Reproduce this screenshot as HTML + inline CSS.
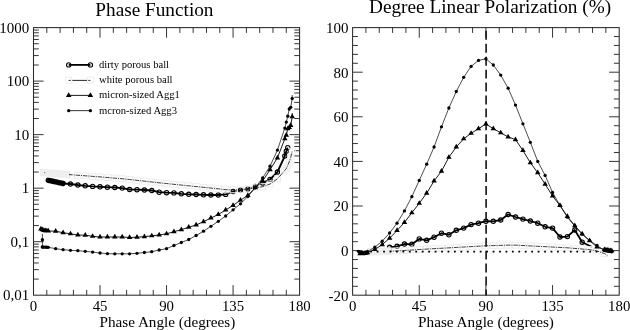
<!DOCTYPE html>
<html><head><meta charset="utf-8"><title>Phase function and polarization</title>
<style>
html,body{margin:0;padding:0;background:#fff;}
body{width:630px;height:330px;overflow:hidden;font-family:"Liberation Serif",serif;}
svg{display:block;filter:grayscale(1);}
svg text{font-family:"Liberation Serif",serif;fill:#000;}
</style></head>
<body>
<svg width="630" height="330" viewBox="0 0 630 330">
<rect width="630" height="330" fill="#fff"/>
<rect x="33.5" y="27.6" width="266.1" height="267.6" fill="none" stroke="#2a2a2a" stroke-width="1.05"/>
<rect x="352.6" y="27.6" width="266.6" height="267.6" fill="none" stroke="#2a2a2a" stroke-width="1.05"/>
<path d="M46.8 295.2v-5.3M46.8 27.6v5.3M60.11 295.2v-5.3M60.11 27.6v5.3M73.42 295.2v-5.3M73.42 27.6v5.3M86.72 295.2v-5.3M86.72 27.6v5.3M100.03 295.2v-10.1M100.03 27.6v10.1M113.33 295.2v-5.3M113.33 27.6v5.3M126.64 295.2v-5.3M126.64 27.6v5.3M139.94 295.2v-5.3M139.94 27.6v5.3M153.25 295.2v-5.3M153.25 27.6v5.3M166.55 295.2v-10.1M166.55 27.6v10.1M179.86 295.2v-5.3M179.86 27.6v5.3M193.16 295.2v-5.3M193.16 27.6v5.3M206.47 295.2v-5.3M206.47 27.6v5.3M219.77 295.2v-5.3M219.77 27.6v5.3M233.07 295.2v-10.1M233.07 27.6v10.1M246.38 295.2v-5.3M246.38 27.6v5.3M259.69 295.2v-5.3M259.69 27.6v5.3M272.99 295.2v-5.3M272.99 27.6v5.3M286.3 295.2v-5.3M286.3 27.6v5.3" stroke="#2a2a2a" stroke-width="0.95" fill="none"/>
<path d="M365.93 295.2v-5.3M365.93 27.6v5.3M379.26 295.2v-5.3M379.26 27.6v5.3M392.59 295.2v-5.3M392.59 27.6v5.3M405.92 295.2v-5.3M405.92 27.6v5.3M419.25 295.2v-10.1M419.25 27.6v10.1M432.58 295.2v-5.3M432.58 27.6v5.3M445.91 295.2v-5.3M445.91 27.6v5.3M459.24 295.2v-5.3M459.24 27.6v5.3M472.57 295.2v-5.3M472.57 27.6v5.3M485.9 295.2v-10.1M485.9 27.6v10.1M499.23 295.2v-5.3M499.23 27.6v5.3M512.56 295.2v-5.3M512.56 27.6v5.3M525.89 295.2v-5.3M525.89 27.6v5.3M539.22 295.2v-5.3M539.22 27.6v5.3M552.55 295.2v-10.1M552.55 27.6v10.1M565.88 295.2v-5.3M565.88 27.6v5.3M579.21 295.2v-5.3M579.21 27.6v5.3M592.54 295.2v-5.3M592.54 27.6v5.3M605.87 295.2v-5.3M605.87 27.6v5.3" stroke="#2a2a2a" stroke-width="0.95" fill="none"/>
<path d="M33.5 279.09h5.3M299.6 279.09h-5.3M33.5 269.66h5.3M299.6 269.66h-5.3M33.5 262.98h5.3M299.6 262.98h-5.3M33.5 257.79h5.3M299.6 257.79h-5.3M33.5 253.55h5.3M299.6 253.55h-5.3M33.5 249.97h5.3M299.6 249.97h-5.3M33.5 246.87h5.3M299.6 246.87h-5.3M33.5 244.13h5.3M299.6 244.13h-5.3M33.5 241.68h10.1M299.6 241.68h-10.1M33.5 225.57h5.3M299.6 225.57h-5.3M33.5 216.14h5.3M299.6 216.14h-5.3M33.5 209.46h5.3M299.6 209.46h-5.3M33.5 204.27h5.3M299.6 204.27h-5.3M33.5 200.03h5.3M299.6 200.03h-5.3M33.5 196.45h5.3M299.6 196.45h-5.3M33.5 193.35h5.3M299.6 193.35h-5.3M33.5 190.61h5.3M299.6 190.61h-5.3M33.5 188.16h10.1M299.6 188.16h-10.1M33.5 172.05h5.3M299.6 172.05h-5.3M33.5 162.62h5.3M299.6 162.62h-5.3M33.5 155.94h5.3M299.6 155.94h-5.3M33.5 150.75h5.3M299.6 150.75h-5.3M33.5 146.51h5.3M299.6 146.51h-5.3M33.5 142.93h5.3M299.6 142.93h-5.3M33.5 139.83h5.3M299.6 139.83h-5.3M33.5 137.09h5.3M299.6 137.09h-5.3M33.5 134.64h10.1M299.6 134.64h-10.1M33.5 118.53h5.3M299.6 118.53h-5.3M33.5 109.1h5.3M299.6 109.1h-5.3M33.5 102.42h5.3M299.6 102.42h-5.3M33.5 97.23h5.3M299.6 97.23h-5.3M33.5 92.99h5.3M299.6 92.99h-5.3M33.5 89.41h5.3M299.6 89.41h-5.3M33.5 86.31h5.3M299.6 86.31h-5.3M33.5 83.57h5.3M299.6 83.57h-5.3M33.5 81.12h10.1M299.6 81.12h-10.1M33.5 65.01h5.3M299.6 65.01h-5.3M33.5 55.58h5.3M299.6 55.58h-5.3M33.5 48.9h5.3M299.6 48.9h-5.3M33.5 43.71h5.3M299.6 43.71h-5.3M33.5 39.47h5.3M299.6 39.47h-5.3M33.5 35.89h5.3M299.6 35.89h-5.3M33.5 32.79h5.3M299.6 32.79h-5.3M33.5 30.05h5.3M299.6 30.05h-5.3" stroke="#2a2a2a" stroke-width="0.95" fill="none"/>
<path d="M352.6 286.28h5.3M619.2 286.28h-5.3M352.6 277.36h5.3M619.2 277.36h-5.3M352.6 268.44h5.3M619.2 268.44h-5.3M352.6 259.52h5.3M619.2 259.52h-5.3M352.6 250.6h10.1M619.2 250.6h-10.1M352.6 241.68h5.3M619.2 241.68h-5.3M352.6 232.76h5.3M619.2 232.76h-5.3M352.6 223.84h5.3M619.2 223.84h-5.3M352.6 214.92h5.3M619.2 214.92h-5.3M352.6 206h10.1M619.2 206h-10.1M352.6 197.08h5.3M619.2 197.08h-5.3M352.6 188.16h5.3M619.2 188.16h-5.3M352.6 179.24h5.3M619.2 179.24h-5.3M352.6 170.32h5.3M619.2 170.32h-5.3M352.6 161.4h10.1M619.2 161.4h-10.1M352.6 152.48h5.3M619.2 152.48h-5.3M352.6 143.56h5.3M619.2 143.56h-5.3M352.6 134.64h5.3M619.2 134.64h-5.3M352.6 125.72h5.3M619.2 125.72h-5.3M352.6 116.8h10.1M619.2 116.8h-10.1M352.6 107.88h5.3M619.2 107.88h-5.3M352.6 98.96h5.3M619.2 98.96h-5.3M352.6 90.04h5.3M619.2 90.04h-5.3M352.6 81.12h5.3M619.2 81.12h-5.3M352.6 72.2h10.1M619.2 72.2h-10.1M352.6 63.28h5.3M619.2 63.28h-5.3M352.6 54.36h5.3M619.2 54.36h-5.3M352.6 45.44h5.3M619.2 45.44h-5.3M352.6 36.52h5.3M619.2 36.52h-5.3" stroke="#2a2a2a" stroke-width="0.95" fill="none"/>
<text x="154.4" y="15.5" font-size="19.25" text-anchor="middle">Phase Function</text>
<text x="490.1" y="13.3" font-size="19.25" text-anchor="middle">Degree Linear Polarization (%)</text>
<text x="167.4" y="326.5" font-size="15.2" text-anchor="middle">Phase Angle (degrees)</text>
<text x="486" y="326.5" font-size="15.2" text-anchor="middle">Phase Angle (degrees)</text>
<text x="33.5" y="310.7" font-size="14.8" text-anchor="middle">0</text>
<text x="352.6" y="310.7" font-size="14.8" text-anchor="middle">0</text>
<text x="100.03" y="310.7" font-size="14.8" text-anchor="middle">45</text>
<text x="419.25" y="310.7" font-size="14.8" text-anchor="middle">45</text>
<text x="166.55" y="310.7" font-size="14.8" text-anchor="middle">90</text>
<text x="485.9" y="310.7" font-size="14.8" text-anchor="middle">90</text>
<text x="233.07" y="310.7" font-size="14.8" text-anchor="middle">135</text>
<text x="552.55" y="310.7" font-size="14.8" text-anchor="middle">135</text>
<text x="299.6" y="310.7" font-size="14.8" text-anchor="middle">180</text>
<text x="619.2" y="310.7" font-size="14.8" text-anchor="middle">180</text>
<text x="29.2" y="32.7" font-size="15" text-anchor="end">1000</text>
<text x="29.2" y="86.22" font-size="15" text-anchor="end">100</text>
<text x="29.2" y="139.74" font-size="15" text-anchor="end">10</text>
<text x="29.2" y="193.26" font-size="15" text-anchor="end">1</text>
<text x="29.2" y="246.78" font-size="15" text-anchor="end">0,1</text>
<text x="29.2" y="299.6" font-size="15" text-anchor="end">0,01</text>
<text x="348.6" y="32.9" font-size="15" text-anchor="end">100</text>
<text x="348.6" y="77.5" font-size="15" text-anchor="end">80</text>
<text x="348.6" y="122.1" font-size="15" text-anchor="end">60</text>
<text x="348.6" y="166.7" font-size="15" text-anchor="end">40</text>
<text x="348.6" y="211.3" font-size="15" text-anchor="end">20</text>
<text x="348.6" y="255.9" font-size="15" text-anchor="end">0</text>
<text x="348.6" y="300.5" font-size="15" text-anchor="end">-20</text>
<polyline points="48.28,180.3 49.76,180.62 51.24,180.94 52.72,181.26 54.2,181.58 55.68,181.9 57.15,182.22 58.63,182.54 60.11,182.86 61.59,183.18 63.07,183.5 70.46,184 77.85,185 85.24,185.8 92.63,186.4 100.03,186.8 107.42,187.2 114.81,187.5 122.2,188.1 129.59,189.5 136.98,189.7 144.38,190 151.77,190.5 159.16,192.2 166.55,192.7 173.94,192.9 181.33,193.8 188.73,194.3 196.12,194.5 203.51,194.8 210.9,195 218.29,195 225.68,194.4 233.07,191.5 240.47,190.1 247.86,188.9 255.25,186.5 262.64,183 270.03,179.4 277.43,172 284.82,156 286.3,151.3 287.77,147.7" fill="none" stroke="#000" stroke-width="1.8" stroke-linejoin="round"/>
<polyline points="48.28,180.3 49.76,180.62 51.24,180.94 52.72,181.26 54.2,181.58 55.68,181.9 57.15,182.22 58.63,182.54 60.11,182.86 61.59,183.18 63.07,183.5" fill="none" stroke="#000" stroke-width="5.4" stroke-linecap="round" stroke-linejoin="round"/>
<g fill="none" stroke="#000" stroke-width="1.1"><circle cx="70.46" cy="184" r="2.15"/><circle cx="77.85" cy="185" r="2.15"/><circle cx="85.24" cy="185.8" r="2.15"/><circle cx="92.63" cy="186.4" r="2.15"/><circle cx="100.03" cy="186.8" r="2.15"/><circle cx="107.42" cy="187.2" r="2.15"/><circle cx="114.81" cy="187.5" r="2.15"/><circle cx="122.2" cy="188.1" r="2.15"/><circle cx="129.59" cy="189.5" r="2.15"/><circle cx="136.98" cy="189.7" r="2.15"/><circle cx="144.38" cy="190" r="2.15"/><circle cx="151.77" cy="190.5" r="2.15"/><circle cx="159.16" cy="192.2" r="2.15"/><circle cx="166.55" cy="192.7" r="2.15"/><circle cx="173.94" cy="192.9" r="2.15"/><circle cx="181.33" cy="193.8" r="2.15"/><circle cx="188.73" cy="194.3" r="2.15"/><circle cx="196.12" cy="194.5" r="2.15"/><circle cx="203.51" cy="194.8" r="2.15"/><circle cx="210.9" cy="195" r="2.15"/><circle cx="218.29" cy="195" r="2.15"/><circle cx="225.68" cy="194.4" r="2.15"/><circle cx="233.07" cy="191.5" r="2.15"/><circle cx="240.47" cy="190.1" r="2.15"/><circle cx="247.86" cy="188.9" r="2.15"/><circle cx="255.25" cy="186.5" r="2.15"/><circle cx="262.64" cy="183" r="2.15"/><circle cx="270.03" cy="179.4" r="2.15"/><circle cx="277.43" cy="172" r="2.15"/><circle cx="284.82" cy="156" r="2.15"/><circle cx="286.3" cy="151.3" r="2.15"/><circle cx="287.77" cy="147.7" r="2.15"/></g>
<polygon points="40.3,169.3 70,171.5 70,177.7 40.3,175.5" fill="#efefef" stroke="#e9e9e9" stroke-width="0.8"/>
<circle cx="44.7" cy="172.6" r="0.6" fill="#555"/>
<g fill="none" stroke="#ededed" stroke-width="1"><rect x="74.85" y="172.24" width="6" height="6"/><rect x="82.24" y="172.79" width="6" height="6"/><rect x="89.63" y="173.35" width="6" height="6"/><rect x="97.03" y="173.9" width="6" height="6"/><rect x="104.42" y="174.52" width="6" height="6"/><rect x="111.81" y="175.14" width="6" height="6"/><rect x="119.2" y="175.75" width="6" height="6"/><rect x="126.59" y="176.5" width="6" height="6"/><rect x="133.98" y="177.32" width="6" height="6"/><rect x="141.38" y="178.15" width="6" height="6"/><rect x="148.77" y="178.97" width="6" height="6"/><rect x="156.16" y="179.8" width="6" height="6"/><rect x="163.55" y="180.56" width="6" height="6"/><rect x="170.94" y="181.31" width="6" height="6"/><rect x="178.33" y="182.06" width="6" height="6"/><rect x="185.73" y="182.81" width="6" height="6"/><rect x="193.12" y="183.57" width="6" height="6"/><rect x="200.51" y="184.32" width="6" height="6"/><rect x="207.9" y="185.07" width="6" height="6"/><rect x="215.29" y="185.82" width="6" height="6"/><rect x="222.68" y="186.7" width="6" height="6"/><rect x="230.07" y="186.8" width="6" height="6"/><rect x="237.47" y="186.8" width="6" height="6"/><rect x="244.86" y="186.2" width="6" height="6"/><rect x="252.25" y="184.8" width="6" height="6"/><rect x="259.64" y="183.63" width="6" height="6"/><rect x="267.03" y="181.07" width="6" height="6"/><rect x="274.43" y="175.85" width="6" height="6"/><rect x="281.82" y="167.38" width="6" height="6"/><rect x="283.3" y="165.6" width="6" height="6"/><rect x="284.77" y="162.24" width="6" height="6"/><rect x="286.25" y="158.88" width="6" height="6"/><rect x="287.73" y="154.23" width="6" height="6"/><rect x="289.21" y="148.3" width="6" height="6"/></g>
<polyline points="68.98,174.58 77.85,175.24 85.24,175.79 92.63,176.35 100.03,176.9 107.42,177.52 114.81,178.14 122.2,178.75 129.59,179.5 136.98,180.32 144.38,181.15 151.77,181.97 159.16,182.8 166.55,183.56 173.94,184.31 181.33,185.06 188.73,185.81 196.12,186.57 203.51,187.32 210.9,188.07 218.29,188.82 225.68,189.7 233.07,189.8 240.47,189.8 247.86,189.2 255.25,187.8 262.64,186.63 270.03,184.07 277.43,178.85 284.82,170.38 286.3,168.6 287.77,165.24 289.25,161.88 290.73,157.23 292.21,151.3" fill="none" stroke="#222" stroke-width="0.9" stroke-dasharray="4.4 1.0 1.0 1.02" stroke-dashoffset="8.17"/>
<polyline points="40.89,229 42.37,229.7 43.85,230.5 45.33,230.7 46.8,230.9 48.28,231 55.68,231.2 63.07,232.7 70.46,233.8 77.85,235 85.24,235.2 92.63,236.3 100.03,237 107.42,237 114.81,237 122.2,237 129.59,237.5 136.98,237.2 144.38,236.7 151.77,235.8 159.16,235 166.55,233.8 173.94,231.7 181.33,229.7 188.73,227.2 196.12,225 203.51,221.7 210.9,218 218.29,214.5 225.68,210 233.07,205.4 240.47,200.2 247.86,195.5 255.25,187.7 262.64,181 270.03,169.8 277.43,157.9 284.82,138.8 286.3,135.2 287.77,128.7 289.25,127.5 290.73,125.5 292.21,116.8 292.2,113" fill="none" stroke="#000" stroke-width="0.9" stroke-linejoin="round"/>
<path d="M40.89 225.87L43.64 230.57L38.14 230.57ZM42.37 226.57L45.12 231.27L39.62 231.27ZM43.85 227.37L46.6 232.07L41.1 232.07ZM45.33 227.57L48.08 232.27L42.58 232.27ZM46.8 227.77L49.55 232.47L44.05 232.47ZM48.28 227.87L51.03 232.57L45.53 232.57ZM55.68 228.07L58.43 232.77L52.93 232.77ZM63.07 229.57L65.82 234.27L60.32 234.27ZM70.46 230.67L73.21 235.37L67.71 235.37ZM77.85 231.87L80.6 236.57L75.1 236.57ZM85.24 232.07L87.99 236.77L82.49 236.77ZM92.63 233.17L95.38 237.87L89.88 237.87ZM100.03 233.87L102.78 238.57L97.28 238.57ZM107.42 233.87L110.17 238.57L104.67 238.57ZM114.81 233.87L117.56 238.57L112.06 238.57ZM122.2 233.87L124.95 238.57L119.45 238.57ZM129.59 234.37L132.34 239.07L126.84 239.07ZM136.98 234.07L139.73 238.77L134.23 238.77ZM144.38 233.57L147.12 238.27L141.62 238.27ZM151.77 232.67L154.52 237.37L149.02 237.37ZM159.16 231.87L161.91 236.57L156.41 236.57ZM166.55 230.67L169.3 235.37L163.8 235.37ZM173.94 228.57L176.69 233.27L171.19 233.27ZM181.33 226.57L184.08 231.27L178.58 231.27ZM188.73 224.07L191.48 228.77L185.98 228.77ZM196.12 221.87L198.87 226.57L193.37 226.57ZM203.51 218.57L206.26 223.27L200.76 223.27ZM210.9 214.87L213.65 219.57L208.15 219.57ZM218.29 211.37L221.04 216.07L215.54 216.07ZM225.68 206.87L228.43 211.57L222.93 211.57ZM233.07 202.27L235.82 206.97L230.32 206.97ZM240.47 197.07L243.22 201.77L237.72 201.77ZM247.86 192.37L250.61 197.07L245.11 197.07ZM255.25 184.57L258 189.27L252.5 189.27ZM262.64 177.87L265.39 182.57L259.89 182.57ZM270.03 166.67L272.78 171.37L267.28 171.37ZM277.43 154.77L280.18 159.47L274.68 159.47ZM284.82 135.67L287.57 140.37L282.07 140.37ZM286.3 132.07L289.05 136.77L283.55 136.77ZM287.77 125.57L290.52 130.27L285.02 130.27ZM289.25 124.37L292 129.07L286.5 129.07ZM290.73 122.37L293.48 127.07L287.98 127.07ZM292.21 113.67L294.96 118.37L289.46 118.37Z" fill="#000"/>
<polyline points="42.4,233.9 42.4,239.7 42.4,246.9 42.37,247.06 43.85,247.12 45.33,247.18 46.8,247.24 48.28,247.3 55.68,248.7 63.07,249.7 70.46,250.3 77.85,250.7 85.24,251.3 92.63,252.1 100.03,253 107.42,253.7 114.81,253.8 122.2,253.8 129.59,253.8 136.98,253.3 144.38,252.5 151.77,251.7 159.16,250 166.55,248.7 173.94,245.5 181.33,242.5 188.73,239.5 196.12,235.5 203.51,231.2 210.9,226.3 218.29,221.3 225.68,216 233.07,209.8 240.47,203.8 247.86,196.5 255.25,187.8 262.64,178 270.03,166.2 277.43,150.1 284.82,128.1 286.3,122.1 287.77,116.2 289.25,109 290.73,107.3 292.21,98.5 292.2,95" fill="none" stroke="#111" stroke-width="0.75" stroke-linejoin="round"/>
<g fill="#000"><circle cx="42.4" cy="239.7" r="1.65"/><circle cx="42.4" cy="246.9" r="1.65"/><circle cx="42.37" cy="247.06" r="1.65"/><circle cx="43.85" cy="247.12" r="1.65"/><circle cx="45.33" cy="247.18" r="1.65"/><circle cx="46.8" cy="247.24" r="1.65"/><circle cx="48.28" cy="247.3" r="1.65"/><circle cx="55.68" cy="248.7" r="1.65"/><circle cx="63.07" cy="249.7" r="1.65"/><circle cx="70.46" cy="250.3" r="1.65"/><circle cx="77.85" cy="250.7" r="1.65"/><circle cx="85.24" cy="251.3" r="1.65"/><circle cx="92.63" cy="252.1" r="1.65"/><circle cx="100.03" cy="253" r="1.65"/><circle cx="107.42" cy="253.7" r="1.65"/><circle cx="114.81" cy="253.8" r="1.65"/><circle cx="122.2" cy="253.8" r="1.65"/><circle cx="129.59" cy="253.8" r="1.65"/><circle cx="136.98" cy="253.3" r="1.65"/><circle cx="144.38" cy="252.5" r="1.65"/><circle cx="151.77" cy="251.7" r="1.65"/><circle cx="159.16" cy="250" r="1.65"/><circle cx="166.55" cy="248.7" r="1.65"/><circle cx="173.94" cy="245.5" r="1.65"/><circle cx="181.33" cy="242.5" r="1.65"/><circle cx="188.73" cy="239.5" r="1.65"/><circle cx="196.12" cy="235.5" r="1.65"/><circle cx="203.51" cy="231.2" r="1.65"/><circle cx="210.9" cy="226.3" r="1.65"/><circle cx="218.29" cy="221.3" r="1.65"/><circle cx="225.68" cy="216" r="1.65"/><circle cx="233.07" cy="209.8" r="1.65"/><circle cx="240.47" cy="203.8" r="1.65"/><circle cx="247.86" cy="196.5" r="1.65"/><circle cx="255.25" cy="187.8" r="1.65"/><circle cx="262.64" cy="178" r="1.65"/><circle cx="270.03" cy="166.2" r="1.65"/><circle cx="277.43" cy="150.1" r="1.65"/><circle cx="284.82" cy="128.1" r="1.65"/><circle cx="286.3" cy="122.1" r="1.65"/><circle cx="287.77" cy="116.2" r="1.65"/><circle cx="289.25" cy="109" r="1.65"/><circle cx="290.73" cy="107.3" r="1.65"/><circle cx="292.21" cy="98.5" r="1.65"/></g>
<text x="99" y="67.8" font-size="10.6" text-anchor="start">dirty porous ball</text>
<polyline points="68.7,64.9 90.4,64.9" fill="none" stroke="#000" stroke-width="1.8" stroke-linejoin="round"/>
<g fill="none" stroke="#000" stroke-width="1.1"><circle cx="68.7" cy="64.9" r="2.15"/><circle cx="90.4" cy="64.9" r="2.15"/></g>
<text x="99" y="83.05" font-size="10.6" text-anchor="start">white porous ball</text>
<g fill="none" stroke="#ededed" stroke-width="1"><rect x="65.7" y="77.15" width="6" height="6"/><rect x="87.4" y="77.15" width="6" height="6"/></g>
<polyline points="68.7,80.4 90.4,80.4" fill="none" stroke="#2a2a2a" stroke-width="1.0" stroke-linejoin="round" stroke-dasharray="2.0 1.6 14.7 1.3 2.1 100"/>
<text x="99" y="98.3" font-size="10.6" text-anchor="start">micron-sized Agg1</text>
<polyline points="68.7,95.4 90.4,95.4" fill="none" stroke="#000" stroke-width="0.9" stroke-linejoin="round"/>
<path d="M68.7 92.27L71.45 96.97L65.95 96.97ZM90.4 92.27L93.15 96.97L87.65 96.97Z" fill="#000"/>
<text x="99" y="113.55" font-size="10.6" text-anchor="start">mcron-sized Agg3</text>
<polyline points="68.7,110.65 90.4,110.65" fill="none" stroke="#000" stroke-width="0.8" stroke-linejoin="round"/>
<g fill="#000"><circle cx="68.7" cy="110.65" r="1.65"/><circle cx="90.4" cy="110.65" r="1.65"/></g>
<polyline points="389.63,247.3 397.03,246.3 404.44,244 411.84,244.3 419.25,238.9 426.66,240.3 434.06,237.2 441.47,233.2 448.87,234.8 456.28,230.3 463.68,228.1 471.09,224.6 478.49,223.2 485.9,221.2 493.31,221.3 500.71,220 508.12,214.5 515.52,217 522.93,219.1 530.33,221 537.74,223.2 545.14,226.8 552.55,228.1 559.96,237 567.36,236.6 574.77,230 582.17,242.2 591.6,246.8" fill="none" stroke="#000" stroke-width="1.8" stroke-linejoin="round"/>
<g fill="none" stroke="#000" stroke-width="1.1"><circle cx="389.63" cy="247.3" r="2.15"/><circle cx="397.03" cy="246.3" r="2.15"/><circle cx="404.44" cy="244" r="2.15"/><circle cx="411.84" cy="244.3" r="2.15"/><circle cx="419.25" cy="238.9" r="2.15"/><circle cx="426.66" cy="240.3" r="2.15"/><circle cx="434.06" cy="237.2" r="2.15"/><circle cx="441.47" cy="233.2" r="2.15"/><circle cx="448.87" cy="234.8" r="2.15"/><circle cx="456.28" cy="230.3" r="2.15"/><circle cx="463.68" cy="228.1" r="2.15"/><circle cx="471.09" cy="224.6" r="2.15"/><circle cx="478.49" cy="223.2" r="2.15"/><circle cx="485.9" cy="221.2" r="2.15"/><circle cx="493.31" cy="221.3" r="2.15"/><circle cx="500.71" cy="220" r="2.15"/><circle cx="508.12" cy="214.5" r="2.15"/><circle cx="515.52" cy="217" r="2.15"/><circle cx="522.93" cy="219.1" r="2.15"/><circle cx="530.33" cy="221" r="2.15"/><circle cx="537.74" cy="223.2" r="2.15"/><circle cx="545.14" cy="226.8" r="2.15"/><circle cx="552.55" cy="228.1" r="2.15"/><circle cx="559.96" cy="237" r="2.15"/><circle cx="567.36" cy="236.6" r="2.15"/><circle cx="574.77" cy="230" r="2.15"/><circle cx="582.17" cy="242.2" r="2.15"/></g>
<polygon points="367.5,248.3 391.13,247.8 391.13,254.6 367.5,255.1" fill="#efefef" stroke="#e9e9e9" stroke-width="0.8"/>
<g fill="none" stroke="#ededed" stroke-width="1"><rect x="386.63" y="248.15" width="6" height="6"/><rect x="394.03" y="248" width="6" height="6"/><rect x="401.44" y="247.5" width="6" height="6"/><rect x="408.84" y="247" width="6" height="6"/><rect x="416.25" y="246.5" width="6" height="6"/><rect x="423.66" y="246.09" width="6" height="6"/><rect x="431.06" y="245.68" width="6" height="6"/><rect x="438.47" y="245.27" width="6" height="6"/><rect x="445.87" y="244.86" width="6" height="6"/><rect x="453.28" y="244.44" width="6" height="6"/><rect x="460.68" y="244.03" width="6" height="6"/><rect x="468.09" y="243.62" width="6" height="6"/><rect x="475.49" y="243.21" width="6" height="6"/><rect x="482.9" y="242.8" width="6" height="6"/><rect x="490.31" y="242.58" width="6" height="6"/><rect x="497.71" y="242.36" width="6" height="6"/><rect x="505.12" y="242.13" width="6" height="6"/><rect x="512.52" y="242.15" width="6" height="6"/><rect x="519.93" y="242.53" width="6" height="6"/><rect x="527.33" y="242.91" width="6" height="6"/><rect x="534.74" y="243.29" width="6" height="6"/><rect x="542.14" y="243.66" width="6" height="6"/><rect x="549.55" y="244.04" width="6" height="6"/><rect x="556.96" y="244.42" width="6" height="6"/><rect x="564.36" y="244.8" width="6" height="6"/><rect x="571.77" y="245.41" width="6" height="6"/><rect x="579.17" y="246.02" width="6" height="6"/><rect x="586.58" y="246.63" width="6" height="6"/><rect x="593.98" y="248" width="6" height="6"/><rect x="601.39" y="250.5" width="6" height="6"/></g>
<polyline points="389.63,251.15 397.03,251 404.44,250.5 411.84,250 419.25,249.5 426.66,249.09 434.06,248.68 441.47,248.27 448.87,247.86 456.28,247.44 463.68,247.03 471.09,246.62 478.49,246.21 485.9,245.8 493.31,245.58 500.71,245.36 508.12,245.13 515.52,245.15 522.93,245.53 530.33,245.91 537.74,246.29 545.14,246.66 552.55,247.04 559.96,247.42 567.36,247.8 574.77,248.41 582.17,249.02 589.58,249.63 596.98,251 604.39,253.5 607.35,255.5" fill="none" stroke="#222" stroke-width="0.9" stroke-dasharray="4.4 1.0 1.0 1.02" stroke-dashoffset="2.2"/>
<line x1="370.26" y1="251.7" x2="600" y2="251.7" stroke="#000" stroke-width="1.8" stroke-dasharray="1.8 4.64"/>
<line x1="486.1" y1="27.6" x2="486.1" y2="295.2" stroke="#111" stroke-width="1.6" stroke-dasharray="8.9 4.03" stroke-dashoffset="9.66"/>
<polyline points="360.01,253.7 361.49,253.7 362.97,253.6 364.45,253.4 365.93,253.1 367.41,252.6 374.82,249.5 382.22,244.6 389.63,238.2 397.03,230.5 404.44,222.4 411.84,212.8 419.25,203.3 426.66,193.2 434.06,181 441.47,171.2 448.87,157.3 456.28,147 463.68,138.8 471.09,133.3 478.49,128.7 485.9,124 493.31,128.7 500.71,132.8 508.12,136.9 515.52,139.6 522.93,150.5 530.33,162.8 537.74,172.7 545.14,184.2 552.55,196 559.96,205.5 567.36,216.4 574.77,225.7 582.17,234 589.58,240.7 596.98,247 604.39,249.6 605.87,249.84 607.35,250.08 608.83,250.32 610.31,250.56 611.79,250.8" fill="none" stroke="#000" stroke-width="0.9" stroke-linejoin="round"/>
<path d="M360.01 250.57L362.76 255.27L357.26 255.27ZM361.49 250.57L364.24 255.27L358.74 255.27ZM362.97 250.47L365.72 255.17L360.22 255.17ZM364.45 250.27L367.2 254.97L361.7 254.97ZM365.93 249.97L368.68 254.67L363.18 254.67ZM367.41 249.47L370.16 254.17L364.66 254.17ZM374.82 246.37L377.57 251.07L372.07 251.07ZM382.22 241.47L384.97 246.17L379.47 246.17ZM389.63 235.07L392.38 239.77L386.88 239.77ZM397.03 227.37L399.78 232.07L394.28 232.07ZM404.44 219.27L407.19 223.97L401.69 223.97ZM411.84 209.67L414.59 214.37L409.09 214.37ZM419.25 200.17L422 204.87L416.5 204.87ZM426.66 190.07L429.41 194.77L423.91 194.77ZM434.06 177.87L436.81 182.57L431.31 182.57ZM441.47 168.07L444.22 172.77L438.72 172.77ZM448.87 154.17L451.62 158.87L446.12 158.87ZM456.28 143.87L459.03 148.57L453.53 148.57ZM463.68 135.67L466.43 140.37L460.93 140.37ZM471.09 130.17L473.84 134.87L468.34 134.87ZM478.49 125.57L481.24 130.27L475.74 130.27ZM485.9 120.87L488.65 125.57L483.15 125.57ZM493.31 125.57L496.06 130.27L490.56 130.27ZM500.71 129.67L503.46 134.37L497.96 134.37ZM508.12 133.77L510.87 138.47L505.37 138.47ZM515.52 136.47L518.27 141.17L512.77 141.17ZM522.93 147.37L525.68 152.07L520.18 152.07ZM530.33 159.67L533.08 164.37L527.58 164.37ZM537.74 169.57L540.49 174.27L534.99 174.27ZM545.14 181.07L547.89 185.77L542.39 185.77ZM552.55 192.87L555.3 197.57L549.8 197.57ZM559.96 202.37L562.71 207.07L557.21 207.07ZM567.36 213.27L570.11 217.97L564.61 217.97ZM574.77 222.57L577.52 227.27L572.02 227.27ZM582.17 230.87L584.92 235.57L579.42 235.57ZM589.58 237.57L592.33 242.27L586.83 242.27ZM596.98 243.87L599.73 248.57L594.23 248.57ZM604.39 246.47L607.14 251.17L601.64 251.17ZM605.87 246.71L608.62 251.41L603.12 251.41ZM607.35 246.95L610.1 251.65L604.6 251.65ZM608.83 247.19L611.58 251.89L606.08 251.89ZM610.31 247.43L613.06 252.13L607.56 252.13ZM611.79 247.67L614.54 252.37L609.04 252.37Z" fill="#000"/>
<polyline points="358.4,251.3 360.01,252.6 361.49,253 362.97,253 364.45,252.8 365.93,252.4 367.41,251.6 374.82,247.2 382.22,241.2 389.63,233 397.03,223.2 404.44,210.9 411.84,196.7 419.25,180.4 426.66,164.2 434.06,147 441.47,126.8 448.87,108 456.28,91.5 463.68,77.3 471.09,66.4 478.49,60.4 485.9,58.8 493.31,65 500.71,75.1 508.12,88.2 515.52,105.1 522.93,123.8 530.33,142.3 537.74,161.4 545.14,175.4 552.55,192.4 559.96,205.5 567.36,217.2 574.77,226 582.17,234.1 589.58,240.4 596.98,245.5 604.39,250.5 605.87,250.76 607.35,251.02 608.83,251.28 610.31,251.54 611.79,251.8" fill="none" stroke="#111" stroke-width="0.75" stroke-linejoin="round"/>
<g fill="#000"><circle cx="358.4" cy="251.3" r="1.65"/><circle cx="360.01" cy="252.6" r="1.65"/><circle cx="361.49" cy="253" r="1.65"/><circle cx="362.97" cy="253" r="1.65"/><circle cx="364.45" cy="252.8" r="1.65"/><circle cx="365.93" cy="252.4" r="1.65"/><circle cx="367.41" cy="251.6" r="1.65"/><circle cx="374.82" cy="247.2" r="1.65"/><circle cx="382.22" cy="241.2" r="1.65"/><circle cx="389.63" cy="233" r="1.65"/><circle cx="397.03" cy="223.2" r="1.65"/><circle cx="404.44" cy="210.9" r="1.65"/><circle cx="411.84" cy="196.7" r="1.65"/><circle cx="419.25" cy="180.4" r="1.65"/><circle cx="426.66" cy="164.2" r="1.65"/><circle cx="434.06" cy="147" r="1.65"/><circle cx="441.47" cy="126.8" r="1.65"/><circle cx="448.87" cy="108" r="1.65"/><circle cx="456.28" cy="91.5" r="1.65"/><circle cx="463.68" cy="77.3" r="1.65"/><circle cx="471.09" cy="66.4" r="1.65"/><circle cx="478.49" cy="60.4" r="1.65"/><circle cx="485.9" cy="58.8" r="1.65"/><circle cx="493.31" cy="65" r="1.65"/><circle cx="500.71" cy="75.1" r="1.65"/><circle cx="508.12" cy="88.2" r="1.65"/><circle cx="515.52" cy="105.1" r="1.65"/><circle cx="522.93" cy="123.8" r="1.65"/><circle cx="530.33" cy="142.3" r="1.65"/><circle cx="537.74" cy="161.4" r="1.65"/><circle cx="545.14" cy="175.4" r="1.65"/><circle cx="552.55" cy="192.4" r="1.65"/><circle cx="559.96" cy="205.5" r="1.65"/><circle cx="567.36" cy="217.2" r="1.65"/><circle cx="574.77" cy="226" r="1.65"/><circle cx="582.17" cy="234.1" r="1.65"/><circle cx="589.58" cy="240.4" r="1.65"/><circle cx="596.98" cy="245.5" r="1.65"/><circle cx="604.39" cy="250.5" r="1.65"/><circle cx="605.87" cy="250.76" r="1.65"/><circle cx="607.35" cy="251.02" r="1.65"/><circle cx="608.83" cy="251.28" r="1.65"/><circle cx="610.31" cy="251.54" r="1.65"/><circle cx="611.79" cy="251.8" r="1.65"/></g>
</svg>
</body></html>
